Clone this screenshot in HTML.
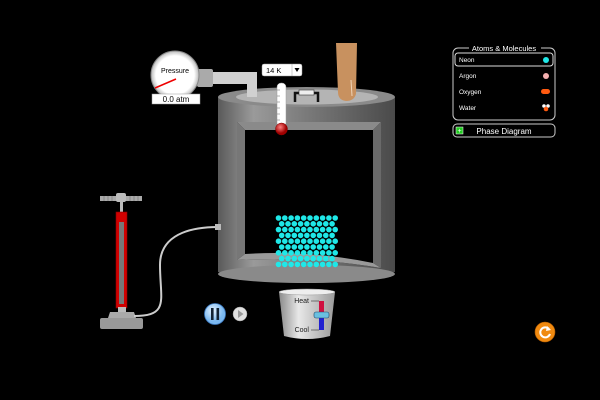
<!DOCTYPE html>
<html><head><meta charset="utf-8"><style>
html,body{margin:0;padding:0;background:#000;width:600px;height:400px;overflow:hidden}
svg{display:block}
text{font-family:"Liberation Sans",sans-serif}
</style></head><body>
<svg id="s" width="600" height="400" viewBox="0 0 600 400" xmlns="http://www.w3.org/2000/svg">
<defs>
<linearGradient id="cyl" x1="0" x2="1" y1="0" y2="0">
<stop offset="0" stop-color="#5a5a5a"/><stop offset="0.2" stop-color="#9a9a9a"/><stop offset="0.5" stop-color="#7a7a7a"/><stop offset="1" stop-color="#4a4a4a"/></linearGradient>
<linearGradient id="bucket" x1="0" x2="1"><stop offset="0" stop-color="#8a8a8a"/><stop offset="0.35" stop-color="#e8e8e8"/><stop offset="1" stop-color="#9a9a9a"/></linearGradient>
<radialGradient id="pause" cx="0.4" cy="0.35"><stop offset="0" stop-color="#e6f3ff"/><stop offset="1" stop-color="#7ab8f0"/></radialGradient>
<radialGradient id="bulb" cx="0.4" cy="0.35"><stop offset="0" stop-color="#ff8080"/><stop offset="1" stop-color="#a00000"/></radialGradient>
<radialGradient id="gauge" cx="0.5" cy="0.5"><stop offset="0.8" stop-color="#fff"/><stop offset="1" stop-color="#bbb"/></radialGradient>
</defs>
<!-- container body -->
<path d="M218 97 L395 97 L395 272 Q306 290 218 272 Z" fill="url(#cyl)"/>
<ellipse cx="306.5" cy="274" rx="88.5" ry="9" fill="#8a8a8a"/>
<ellipse cx="306.5" cy="97" rx="88.5" ry="10" fill="#8a8a8a"/>
<ellipse cx="307" cy="97" rx="71" ry="7.5" fill="#b4b4b4"/>
<!-- inner opening -->
<path d="M237 122 L381 122 L381 268 Q310 256 237 260 Z" fill="#000"/>
<path d="M237 122 L245 130 L245 254 L237 260 Z" fill="#777"/>
<path d="M381 122 L373 130 L373 263 L381 268 Z" fill="#6a6a6a"/>
<path d="M237 122 L381 122 L373 130 L245 130 Z" fill="#8a8a8a"/>
<path d="M245 254 Q310 250 373 263 L381 268 Q310 256 237 260 Z" fill="#999"/>
<!-- particles -->
<g id="p" fill="#1fe8e8"></g>
<!-- gauge pipe -->
<rect x="199" y="72" width="56" height="12" fill="#d0d0d0"/>
<rect x="247" y="72" width="10" height="25" fill="#d0d0d0"/>
<rect x="197" y="69" width="16" height="18" rx="2" fill="#aaa"/>
<circle cx="175" cy="75" r="24" fill="url(#gauge)" stroke="#888"/>
<text x="175" y="73" font-size="7" text-anchor="middle" fill="#000">Pressure</text>
<line x1="176" y1="79" x2="155" y2="88" stroke="#e00" stroke-width="1.5"/>
<rect x="152" y="94" width="48" height="10" fill="#fff" stroke="#999" stroke-width="0.5"/>
<text x="176" y="102" font-size="8" text-anchor="middle" fill="#000">0.0 atm</text>
<!-- dropdown -->
<rect x="262" y="64" width="40" height="12" rx="2" fill="#fff" stroke="#999" stroke-width="0.5"/>
<line x1="292" y1="64" x2="292" y2="76" stroke="#999" stroke-width="0.5"/>
<text x="266" y="73" font-size="7.5" fill="#000">14 K</text>
<path d="M294.5 68 L299.5 68 L297 72 Z" fill="#000"/>
<!-- thermometer -->
<rect x="277" y="83" width="9" height="44" rx="4" fill="#fff" stroke="#999" stroke-width="0.5"/>
<g stroke="#666" stroke-width="0.5"><line x1="277" y1="90" x2="280" y2="90"/><line x1="277" y1="96" x2="280" y2="96"/><line x1="277" y1="102" x2="280" y2="102"/><line x1="277" y1="108" x2="280" y2="108"/><line x1="277" y1="114" x2="280" y2="114"/><line x1="277" y1="120" x2="280" y2="120"/></g>
<circle cx="281.5" cy="129" r="6" fill="url(#bulb)" stroke="#800" stroke-width="0.5"/>
<!-- lid handle -->
<path d="M295 102 L295 93 L318 93 L318 102" fill="none" stroke="#111" stroke-width="2.5"/>
<rect x="299" y="90" width="15" height="5" fill="#eee" stroke="#333" stroke-width="0.6"/>
<!-- finger -->
<path d="M336 43 L357 43 L356 94 Q354 101 346 101 Q338 100 338 92 Z" fill="#c8915f"/>
<path d="M351 80 L352 96" stroke="#f0d4b8" stroke-width="1"/>
<!-- pump -->
<rect x="100" y="196" width="42" height="5" fill="#aaa"/>
<g stroke="#666" stroke-width="0.5"><line x1="104" y1="196" x2="104" y2="201"/><line x1="108" y1="196" x2="108" y2="201"/><line x1="112" y1="196" x2="112" y2="201"/><line x1="130" y1="196" x2="130" y2="201"/><line x1="134" y1="196" x2="134" y2="201"/><line x1="138" y1="196" x2="138" y2="201"/></g>
<rect x="116" y="193" width="10" height="9" rx="2" fill="#bbb"/>
<rect x="120" y="201" width="3" height="12" fill="#bbb"/>
<rect x="116" y="212" width="11" height="96" fill="#d00000" stroke="#800" stroke-width="0.6"/>
<rect x="119" y="222" width="5" height="82" fill="#777"/>
<rect x="118" y="307" width="8" height="6" fill="#bbb"/>
<path d="M110 312 L134 312 L136 318 L108 318 Z" fill="#aaa"/>
<rect x="100" y="318" width="43" height="11" rx="2" fill="#999"/>
<path d="M134 316 C170 316 160 300 160 265 C160 230 200 227 218 227" fill="none" stroke="#ccc" stroke-width="2"/>
<rect x="215" y="224" width="6" height="6" fill="#bbb"/>
<!-- pause/step -->
<circle cx="215" cy="314" r="10.5" fill="url(#pause)" stroke="#3a78c0" stroke-width="0.8"/>
<rect x="211" y="308" width="2.6" height="12" fill="#123"/><rect x="216.5" y="308" width="2.6" height="12" fill="#123"/>
<circle cx="240" cy="314" r="7" fill="#e0e0e0" stroke="#999" stroke-width="0.5"/>
<path d="M238 310 L238 318 L243.5 314 Z" fill="#999"/>
<!-- bucket -->
<path d="M279 292 L335 292 L330 336 Q307 342 284 336 Z" fill="url(#bucket)"/>
<ellipse cx="307" cy="292" rx="28" ry="3" fill="#eee" stroke="#999" stroke-width="0.5"/>
<rect x="319" y="301" width="5" height="14" fill="#d01040"/>
<rect x="319" y="315" width="5" height="15" fill="#2020d0"/>
<rect x="314" y="312" width="15" height="6" rx="2" fill="#6ac0e0" stroke="#246" stroke-width="0.6"/>
<line x1="311" y1="301" x2="319" y2="301" stroke="#333" stroke-width="0.6"/><line x1="311" y1="330" x2="319" y2="330" stroke="#333" stroke-width="0.6"/>
<text x="309" y="303" font-size="7" text-anchor="end" fill="#222">Heat</text>
<text x="309" y="332" font-size="7" text-anchor="end" fill="#222">Cool</text>
<!-- reset -->
<circle cx="545" cy="332" r="10" fill="#f08a10" stroke="#b05a00" stroke-width="0.6"/>
<path d="M549 329 A5 5 0 1 0 550 334" fill="none" stroke="#fff" stroke-width="2"/>
<path d="M547 326 L551 330 L546 331 Z" fill="#fff"/>
<!-- panel -->
<rect x="453" y="48" width="102" height="72" rx="5" fill="none" stroke="#ccc" stroke-width="1"/>
<rect x="469" y="43" width="72" height="10" fill="#000"/>
<text x="504" y="51" font-size="7.5" text-anchor="middle" fill="#fff">Atoms &amp; Molecules</text>
<rect x="455" y="53" width="98" height="13" rx="3" fill="none" stroke="#ddd" stroke-width="1"/>
<text x="459" y="62" font-size="6.5" fill="#fff">Neon</text>
<circle cx="546" cy="60" r="3" fill="#1fe8e8"/>
<text x="459" y="78" font-size="6.5" fill="#fff">Argon</text>
<circle cx="546" cy="76" r="3" fill="#f5b0b0"/>
<text x="459" y="94" font-size="6.5" fill="#fff">Oxygen</text>
<rect x="541" y="89" width="9" height="5" rx="2.5" fill="#ff5a10"/>
<text x="459" y="110" font-size="6.5" fill="#fff">Water</text>
<circle cx="544" cy="106" r="1.8" fill="#fff"/><circle cx="548" cy="106" r="1.8" fill="#fff"/><circle cx="546" cy="109" r="2.3" fill="#ff5a10"/>
<rect x="453" y="124" width="102" height="13" rx="4" fill="none" stroke="#ccc" stroke-width="1"/>
<rect x="456" y="127" width="7" height="7" fill="#2c2" stroke="#fff" stroke-width="0.5"/>
<text x="459.5" y="133" font-size="7" text-anchor="middle" fill="#fff">+</text>
<text x="504" y="134" font-size="8" text-anchor="middle" fill="#fff">Phase Diagram</text>
</svg>
<script>
var g=document.getElementById('p'),h='';
for(var r=0;r<9;r++){var y=218+r*5.8,off=(r%2)?3.2:0;for(var c=0;c<10;c++){var x=278.5+off+c*6.3;if(x>337)continue;h+='<circle cx="'+x.toFixed(1)+'" cy="'+y.toFixed(1)+'" r="2.8"/>';}}
g.innerHTML=h;
</script>
</body></html>
